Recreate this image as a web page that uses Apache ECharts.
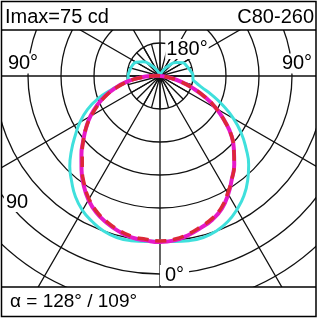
<!DOCTYPE html>
<html><head><meta charset="utf-8">
<script src="https://cdn.jsdelivr.net/npm/echarts@6/dist/echarts.min.js"></script>
<style>html,body{margin:0;padding:0;background:#fff}#c{width:320px;height:319px}</style>
</head><body><div id="c"></div>
<script>
// gamma angles (deg from nadir) and intensities (cd)
const gammaCyan = [0,5,10,15,20,25,30,35,40,45,50,55,60,65,70,75,80,85,90,100,110,120,130,140,150,160,170,180];
const cyanLeft  = [75,75.5,76,76,75,73,70.5,67,62.5,58,52.5,47,42,36.5,30,22,16,14.5,14.5,14,13.5,12.5,10,6.5,3.5,1.5,0.5,0];
const cyanRight = [75,75.5,76,76,75,73,70,66.5,62,57,51,45,38.5,31.5,25,19.5,16.5,15,15,14,13,12,9.5,6,3,1.2,0.4,0];

const gammaMag = [0,5,10,15,20,25,30,35,40,45,50,55,60,65,70,75,80,85,90,95,100];
const magentaLeft  = [75.5,75,74.5,73,71,68.5,65,60.5,55.5,50.5,45.5,41,36.5,31.5,26.5,21,15.5,9.5,4,1,0];
const magentaRight = [75.5,75,73.5,71.5,69.5,66.5,62,57,52.5,47.5,42.5,36,29.5,22.5,15.5,9.5,4.5,1.5,0,0,0];
const redLeft  = [75,74.5,74,72.5,70.5,68,64.5,60,55,50,45.5,41,36,31,26,20.5,15,9,3.5,1,0];
const redRight = [75,74.5,73,71,69,66,61.5,57,52.5,47.5,42.5,36,29.5,22.5,15.5,9.5,4.5,1.5,0,0,0];

const angleLabels = ['180°','90°','90°','0°'];
const radiusLabels = ['90'];
const headerLeft = 'Imax=75 cd';
const headerRight = 'C80-260';
const footerText = 'α = 128° / 109°';

function pathData(g, left, right) {
  const d = [];
  for (let i = g.length - 1; i >= 0; i--) d.push([left[i], g[i]]);
  for (let i = 1; i < g.length; i++) d.push([right[i], 360 - g[i]]);
  return d;
}

const FONT = '"Liberation Sans", Arial, sans-serif';
const chart = echarts.init(document.getElementById('c'), null, {renderer:'canvas'});
const gridLine = {show:true, lineStyle:{color:'#111', width:1.3}};
const hidden = {show:false};

chart.setOption({
  animation:false,
  backgroundColor:'#fff',
  polar:[
    {center:[160,76], radius:297},
    {center:[160,76], radius:33}
  ],
  angleAxis:[
    {polarIndex:0, type:'value', min:0, max:360, interval:30, startAngle:270, clockwise:true,
     axisLine:hidden, axisTick:hidden, axisLabel:hidden, splitLine:gridLine},
    {polarIndex:1, type:'value', min:0, max:360, interval:15, startAngle:270, clockwise:true,
     axisLine:hidden, axisTick:hidden, axisLabel:hidden, splitLine:gridLine}
  ],
  radiusAxis:[
    {polarIndex:0, type:'value', min:0, max:135, interval:15,
     axisLine:hidden, axisTick:hidden, axisLabel:hidden, splitLine:gridLine},
    {polarIndex:1, type:'value', min:0, max:1,
     axisLine:hidden, axisTick:hidden, axisLabel:hidden, splitLine:hidden}
  ],
  series:[
    {type:'line', coordinateSystem:'polar', polarIndex:0, data:pathData(gammaCyan, cyanLeft, cyanRight),
     showSymbol:false, smooth:0.5, z:3, lineStyle:{color:'#3fe0dc', width:3}},
    {type:'line', coordinateSystem:'polar', polarIndex:0, data:pathData(gammaMag, magentaLeft, magentaRight),
     showSymbol:false, smooth:0.5, z:4, lineStyle:{color:'#e619c8', width:4}},
    {type:'line', coordinateSystem:'polar', polarIndex:0, data:pathData(gammaMag, redLeft, redRight),
     showSymbol:false, smooth:0.5, z:5, lineStyle:{color:'#dc2837', width:3.5, type:[11,7]}}
  ],
  graphic:[
    {type:'rect', z:100, shape:{x:0,y:0,width:320,height:30}, style:{fill:'#fff'}},
    {type:'rect', z:100, shape:{x:0,y:287,width:320,height:32}, style:{fill:'#fff'}},
    {type:'rect', z:100, shape:{x:0,y:0,width:2,height:319}, style:{fill:'#fff'}},
    {type:'rect', z:100, shape:{x:316,y:0,width:4,height:319}, style:{fill:'#fff'}},
    {type:'rect', z:101, shape:{x:1.5,y:1.5,width:314.5,height:315}, style:{fill:null, stroke:'#000', lineWidth:1.5}},
    {type:'line', z:101, shape:{x1:1.5,y1:30,x2:316,y2:30}, style:{stroke:'#000', lineWidth:1.5}},
    {type:'line', z:101, shape:{x1:1.5,y1:287,x2:316,y2:287}, style:{stroke:'#000', lineWidth:1.5}},
    {type:'text', z:102, style:{text:headerLeft, x:5, y:17, font:'20px '+FONT, fill:'#000', align:'left', verticalAlign:'middle'}},
    {type:'text', z:102, style:{text:headerRight, x:314, y:17, font:'20px '+FONT, fill:'#000', align:'right', verticalAlign:'middle'}},
    {type:'text', z:102, style:{text:footerText, x:10, y:302, font:'19px '+FONT, fill:'#000', align:'left', verticalAlign:'middle'}},
    {type:'text', z:102, style:{text:angleLabels[0], x:187, y:49, font:'20px '+FONT, fill:'#000', align:'center', verticalAlign:'middle', backgroundColor:'#fff', padding:[0,1]}},
    {type:'text', z:102, style:{text:angleLabels[1], x:23, y:63.5, font:'20px '+FONT, fill:'#000', align:'center', verticalAlign:'middle', backgroundColor:'#fff', padding:[0,1]}},
    {type:'text', z:102, style:{text:angleLabels[2], x:297, y:63.5, font:'20px '+FONT, fill:'#000', align:'center', verticalAlign:'middle', backgroundColor:'#fff', padding:[0,1]}},
    {type:'text', z:102, style:{text:angleLabels[3], x:174.5, y:275, font:'20px '+FONT, fill:'#000', align:'center', verticalAlign:'middle', backgroundColor:'#fff', padding:[0,5]}},
    {type:'text', z:102, style:{text:radiusLabels[0], x:17, y:202, font:'20px '+FONT, fill:'#000', align:'center', verticalAlign:'middle', backgroundColor:'#fff', padding:[0,2]}}
  ]
});
</script></body></html>
